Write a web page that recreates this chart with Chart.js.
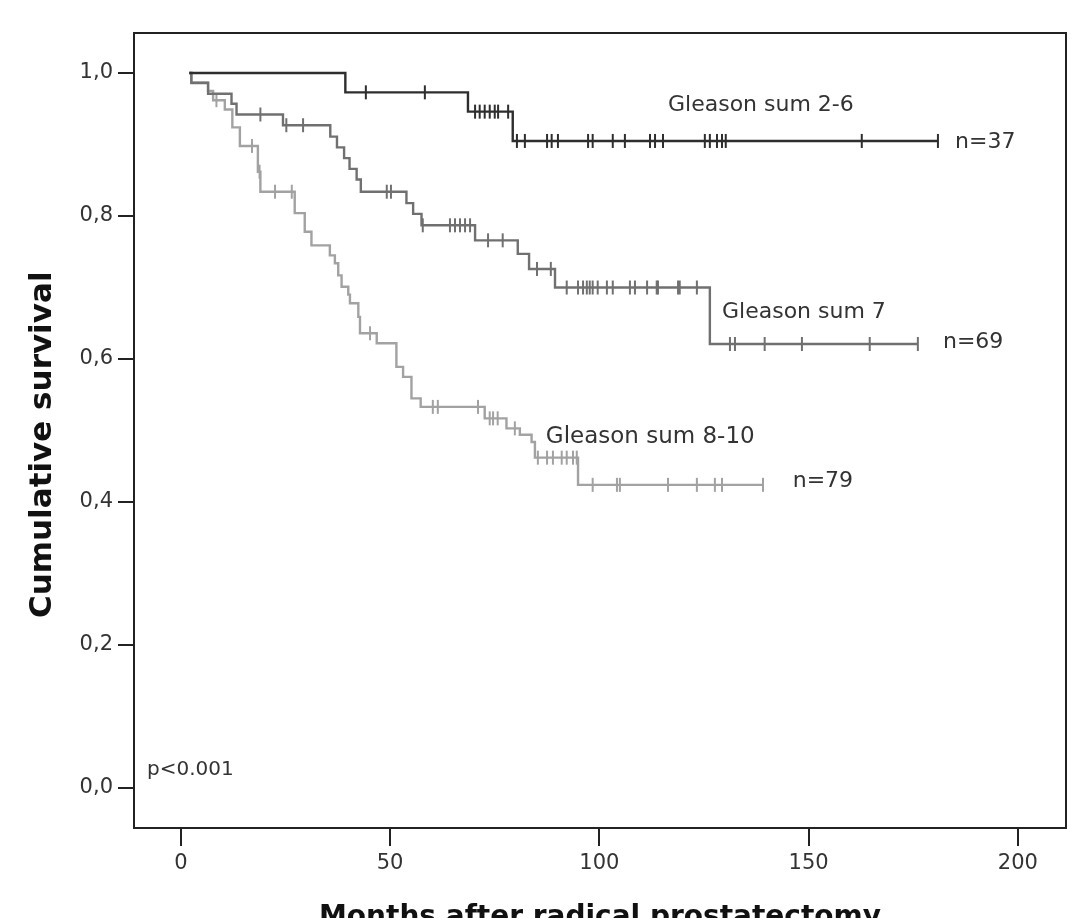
<!DOCTYPE html>
<html>
<head>
<meta charset="utf-8">
<script src="https://cdn.jsdelivr.net/npm/chart.js@4"></script>
<style>
  html, body { margin: 0; padding: 0; background: #fff; overflow: hidden; }
  canvas { display: block; }
</style>
</head>
<body>
<canvas id="km" width="1090" height="940"></canvas>
<script>
// Kaplan-Meier steps: time of each event (months) and survival after it
const g26Times = [2, 39.3, 68.6, 79.3, 180.9]
const g26Surv = [1.0, 0.973, 0.946, 0.905, 0.905]
const g26Censored = [44.2, 58.3, 70.3, 71.4, 72.6, 73.8, 75.0, 75.8, 78.2, 80.3, 82.2, 87.5, 88.6, 90.1,
    97.3, 98.4, 103.2, 106.1, 112.1, 113.3, 115.2, 125.2, 126.4, 128.1, 129.3, 130.2, 162.7, 180.9]

const g7Times = [2, 2.5, 6.5, 12.1, 13.3, 24.4, 35.7, 37.3, 39.0, 40.3, 42.0, 43.0, 53.9, 55.5, 57.5,
    70.3, 80.5, 83.2, 89.4, 126.4, 176.1]
const g7Surv = [1.0, 0.986, 0.971, 0.957, 0.942, 0.927, 0.911, 0.896, 0.881, 0.866, 0.851, 0.834, 0.818, 0.803, 0.787,
    0.766, 0.747, 0.726, 0.700, 0.621, 0.621]
const g7Censored = [19.0, 25.2, 29.2, 49.2, 50.2, 57.8, 64.3, 65.5, 66.7, 67.9, 69.1, 73.4, 76.9, 85.1, 88.4,
    92.2, 94.9, 96.1, 97.0, 97.7, 98.4, 99.6, 101.8, 103.2, 107.3, 108.5, 111.4, 113.7, 114.0, 118.8, 119.2, 123.3,
    131.2, 132.4, 139.5, 148.4, 164.6, 176.1]

const g810Times = [2, 2.5, 6.5, 7.7, 10.5, 12.3, 14.1, 18.4, 19.0, 27.2, 29.6, 31.2, 35.6, 36.8, 37.6, 38.4,
    40.0, 40.4, 42.4, 42.8, 46.8, 51.5, 53.1, 55.1, 57.3, 72.6, 77.8, 81.0, 83.8, 84.6, 94.9, 139.1]
const g810Surv = [1.0, 0.987, 0.975, 0.962, 0.949, 0.924, 0.898, 0.862, 0.834, 0.804, 0.778, 0.759, 0.745, 0.734, 0.717, 0.701,
    0.690, 0.678, 0.659, 0.636, 0.622, 0.589, 0.575, 0.545, 0.533, 0.517, 0.503, 0.494, 0.484, 0.462, 0.424, 0.424]
const g810Censored = [8.5, 17.0, 18.8, 22.5, 26.5, 45.2, 60.2, 61.4, 71.0, 73.8, 74.6, 75.7, 79.8, 85.3, 87.5,
    88.9, 91.0, 92.2, 93.7, 94.6, 98.4, 104.2, 104.9, 116.4, 123.3, 127.6, 129.3, 139.1]

const xTicks = [0, 50, 100, 150, 200]
const yTicks = [0, 0.2, 0.4, 0.6, 0.8, 1.0]
const yTickLabels = ["0,0", "0,2", "0,4", "0,6", "0,8", "1,0"]

const groupNames = ["Gleason sum 2-6", "Gleason sum 7", "Gleason sum 8-10"]
const groupN = ["n=37", "n=69", "n=79"]

// survival value of a step curve at time t
const survAt = function(times, surv, t){
    let s = surv[0]
    for (let i = 0; i < times.length; i++) {
        if (times[i] <= t) s = surv[i]
    }
    return s
}

const curve = function(times, surv, color){
    return {
        data: times.map((t, i) => ({x: t, y: surv[i]})),
        showLine: true,
        stepped: true,
        borderColor: color,
        borderWidth: 2.4,
        pointRadius: 0,
        fill: false
    }
}

const censorMarks = function(times, surv, cens, color){
    return {
        data: cens.map(t => ({x: t, y: survAt(times, surv, t)})),
        showLine: false,
        pointStyle: "line",
        rotation: 90,
        pointRadius: 7,
        borderColor: color,
        borderWidth: 2
    }
}

const dark = "#2e2e2e"
const mid = "#707070"
const light = "#a2a2a2"

// labels next to the curves, in data coordinates
const notes = [
    {text: groupNames[0], x: 116.4, y: 0.955, size: 22},
    {text: groupN[0], x: 185, y: 0.903, size: 22},
    {text: groupNames[1], x: 129.3, y: 0.666, size: 22},
    {text: groupN[1], x: 182.1, y: 0.624, size: 22},
    {text: groupNames[2], x: 87.2, y: 0.491, size: 23},
    {text: groupN[2], x: 146.2, y: 0.429, size: 22},
    {text: "p<0.001", x: -8.1, y: 0.025, size: 20}
]

const framePlugin = {
    id: "frame",
    afterDatasetsDraw(chart){
        const {ctx, chartArea, scales} = chart
        ctx.save()
        ctx.strokeStyle = "#222"
        ctx.lineWidth = 2
        ctx.strokeRect(chartArea.left, chartArea.top, chartArea.right - chartArea.left, chartArea.bottom - chartArea.top)
        ctx.fillStyle = "#333"
        ctx.textBaseline = "middle"
        ctx.textAlign = "left"
        notes.forEach(n => {
            ctx.font = n.size + "px 'DejaVu Sans'"
            ctx.fillText(n.text, scales.x.getPixelForValue(n.x), scales.y.getPixelForValue(n.y))
        })
        // y axis title, sits a little below the middle of the axis
        ctx.fillStyle = "#111"
        ctx.font = "bold 31px 'DejaVu Sans'"
        ctx.textAlign = "center"
        ctx.textBaseline = "alphabetic"
        ctx.translate(51, scales.y.getPixelForValue(0.48))
        ctx.rotate(-Math.PI / 2)
        ctx.fillText("Cumulative survival", 0, 0)
        ctx.restore()
    }
}

const ctx = document.getElementById("km").getContext("2d")
new Chart(ctx, {
    type: "scatter",
    data: {
        datasets: [
            curve(g26Times, g26Surv, dark),
            censorMarks(g26Times, g26Surv, g26Censored, dark),
            curve(g7Times, g7Surv, mid),
            censorMarks(g7Times, g7Surv, g7Censored, mid),
            curve(g810Times, g810Surv, light),
            censorMarks(g810Times, g810Surv, g810Censored, light)
        ]
    },
    options: {
        responsive: false,
        animation: false,
        layout: {padding: {top: 33, right: 24, left: 0, bottom: 0}},
        plugins: {legend: {display: false}, tooltip: {enabled: false}},
        scales: {
            x: {
                type: "linear",
                min: -11.2,
                max: 211.5,
                afterBuildTicks: s => { s.ticks = xTicks.map(v => ({value: v})) },
                afterFit: s => { s.height = 112 },
                grid: {drawOnChartArea: false, tickLength: 18, color: "#222", lineWidth: 2},
                border: {display: false},
                ticks: {color: "#333", font: {family: "DejaVu Sans", size: 21}, padding: 5, maxRotation: 0},
                title: {
                    display: true,
                    text: "Months after radical prostatectomy",
                    color: "#111",
                    font: {family: "DejaVu Sans", size: 28, weight: "bold"},
                    padding: {top: 0, bottom: 5}
                }
            },
            y: {
                type: "linear",
                min: -0.056,
                max: 1.056,
                afterBuildTicks: s => { s.ticks = yTicks.map(v => ({value: v})) },
                afterFit: s => { s.width = 134 },
                grid: {drawOnChartArea: false, tickLength: 16, color: "#222", lineWidth: 2},
                border: {display: false},
                ticks: {
                    color: "#333",
                    font: {family: "DejaVu Sans", size: 21},
                    padding: 5,
                    callback: (v, i) => yTickLabels[i]
                }
            }
        }
    },
    plugins: [framePlugin]
})
</script>
</body>
</html>
